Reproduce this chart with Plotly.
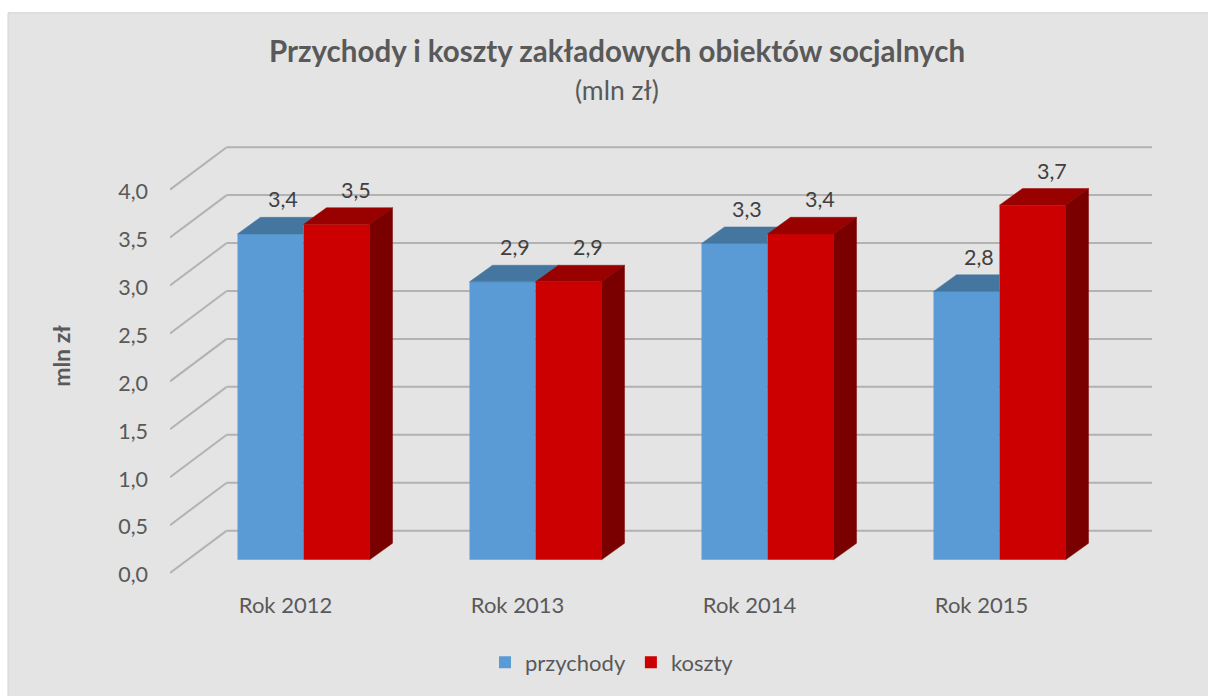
import plotly.graph_objects as go

# ---------------- data ----------------
categories = ["Rok 2012", "Rok 2013", "Rok 2014", "Rok 2015"]
przychody = [3.4, 2.9, 3.3, 2.8]
koszty = [3.5, 2.9, 3.4, 3.7]
series_names = ["przychody", "koszty"]
y_ticks = [0.0, 0.5, 1.0, 1.5, 2.0, 2.5, 3.0, 3.5, 4.0]

# ---------------- style / geometry ----------------
W, H = 1208, 696
PX_X = 232.0          # pixels per category unit
PX_Y = 96.5           # pixels per value unit
CAT0_PX = 303.5       # pixel x of first category centre
ZERO_PX = 562.7       # pixel y of value 0 (bar plane)
PLOT_L, PLOT_R, PLOT_T, PLOT_B = 170, 1170, 130, 585

def px2x(px):
    return (px - CAT0_PX) / PX_X

def px2y(py):
    return (ZERO_PX - py) / PX_Y

def paper_x(px):
    return (px - PLOT_L) / (PLOT_R - PLOT_L)

def paper_y(py):
    return (PLOT_B - py) / (PLOT_B - PLOT_T)

BAR_W = 66 / PX_X
DDX = 23 / PX_X       # bar depth (screen offset)
DDY = 16.7 / PX_Y
BACK_DY = 29.4 / PX_Y
FRONT_DY = -13.3 / PX_Y
X_FRONT_LEFT = px2x(170)
X_BACK_LEFT = px2x(226.7)
X_BACK_RIGHT = px2x(1152)

front_cols = ["#5B9BD5", "#CC0000"]
top_cols = ["#44769F", "#990000"]
side_cols = ["#3A6890", "#7A0000"]
TXT = "#595959"
FONT = "Lato"

def fmt(v):
    return f"{v:.1f}".replace(".", ",")

fig = go.Figure()

# ---------------- front faces (bars) ----------------
idx = list(range(len(categories)))
for s, vals in enumerate([przychody, koszty]):
    fig.add_trace(go.Bar(
        x=idx, y=vals, width=BAR_W, offset=(s - 1) * BAR_W,
        name=series_names[s], marker=dict(color=front_cols[s], line=dict(width=0)),
        hoverinfo="name+y",
    ))

def poly(xs, ys, color):
    fig.add_trace(go.Scatter(
        x=xs + [xs[0]], y=ys + [ys[0]], mode="lines", fill="toself",
        fillcolor=color, line=dict(color=color, width=0.5),
        showlegend=False, hoverinfo="skip",
    ))

# ---------------- top / side faces ----------------
for i in idx:
    vb, vr = przychody[i], koszty[i]
    # series 0 (left bar) - partly hidden by the right bar
    x0, x1 = i - BAR_W, i
    if vr <= vb:
        poly([x0, x1, x1 + DDX, x0 + DDX], [vb, vb, vb + DDY, vb + DDY], top_cols[0])
        poly([x1, x1, x1 + DDX, x1 + DDX], [vr, vb, vb + DDY, vr + DDY], side_cols[0])
    elif vr >= vb + DDY:
        poly([x0, x1, x1, x0 + DDX], [vb, vb, vb + DDY, vb + DDY], top_cols[0])
    else:
        q = x1 + DDX * (vb + DDY - vr) / DDY
        poly([x0, x1, x1, q, x0 + DDX], [vb, vb, vr, vb + DDY, vb + DDY], top_cols[0])
    # series 1 (right bar) - fully visible
    x0, x1 = i, i + BAR_W
    poly([x0, x1, x1 + DDX, x0 + DDX], [vr, vr, vr + DDY, vr + DDY], top_cols[1])
    poly([x1, x1, x1 + DDX, x1 + DDX], [0, vr, vr + DDY, DDY], side_cols[1])

# ---------------- gridlines (back wall + floor diagonals) ----------------
shapes = []
# chart area background
shapes.append(dict(type="rect", xref="paper", yref="paper",
                   x0=paper_x(8), x1=paper_x(W + 20),
                   y0=paper_y(H + 20), y1=paper_y(12),
                   fillcolor="#E4E4E4", line=dict(color="#D3D3D3", width=1), layer="below"))
for t in y_ticks:
    shapes.append(dict(type="line", xref="x", yref="y",
                       x0=X_BACK_LEFT, x1=X_BACK_RIGHT, y0=t + BACK_DY, y1=t + BACK_DY,
                       line=dict(color="#B2B2B2", width=2), layer="below"))
    shapes.append(dict(type="line", xref="x", yref="y",
                       x0=X_FRONT_LEFT, x1=X_BACK_LEFT, y0=t + FRONT_DY, y1=t + BACK_DY,
                       line=dict(color="#B2B2B2", width=2), layer="below"))

# ---------------- data labels ----------------
annotations = []
label_dx = [0.55 * DDX, 0.85 * DDX]
for s, vals in enumerate([przychody, koszty]):
    for i in idx:
        xc = i + (s - 0.5) * BAR_W + label_dx[s]
        annotations.append(dict(x=xc, y=vals[i] + DDY, xref="x", yref="y",
                                text=fmt(vals[i]), showarrow=False, yanchor="bottom",
                                yshift=3, font=dict(family=FONT, size=21.5, color="#404040")))

# subtitle
annotations.append(dict(x=paper_x(617), y=paper_y(90), xref="paper", yref="paper",
                        text="(mln zł)", showarrow=False, xanchor="center", yanchor="middle",
                        font=dict(family=FONT, size=26.5, color=TXT)))

fig.update_layout(
    width=W, height=H,
    margin=dict(l=PLOT_L, r=W - PLOT_R, t=PLOT_T, b=H - PLOT_B, pad=0),
    paper_bgcolor="white", plot_bgcolor="rgba(0,0,0,0)",
    separators=", ",
    barmode="overlay",
    font=dict(family=FONT, color=TXT, size=20),
    title=dict(text="<b>Przychody i koszty zakładowych obiektów socjalnych</b>",
               x=617 / W, xanchor="center", y=1 - 52 / H, yanchor="middle",
               font=dict(family=FONT, size=29.5, color=TXT)),
    xaxis=dict(range=[px2x(PLOT_L), px2x(PLOT_R)], tickvals=idx, ticktext=categories,
               showgrid=False, zeroline=False, showline=False, ticks="",
               ticklabelshift=-18, ticklabelstandoff=8,
               tickfont=dict(family=FONT, size=22, color=TXT), fixedrange=True),
    yaxis=dict(range=[px2y(PLOT_B), px2y(PLOT_T)], tickvals=y_ticks, tickformat=".1f",
               showgrid=False, zeroline=False, showline=False, ticks="",
               ticklabelshift=15, ticklabelstandoff=21,
               tickfont=dict(family=FONT, size=21.5, color=TXT),
               title=dict(text="<b>mln zł</b>", standoff=41,
                          font=dict(family=FONT, size=23, color=TXT)),
               fixedrange=True),
    legend=dict(orientation="h", x=paper_x(612), xanchor="center",
                y=paper_y(666), yanchor="middle",
                font=dict(family=FONT, size=22, color=TXT), bgcolor="rgba(0,0,0,0)",
                itemwidth=30, traceorder="normal"),
    shapes=shapes, annotations=annotations,
    showlegend=True,
)

fig.write_html("out.html", config={"displayModeBar": False},
               post_script="document.body.style.margin='0px';")
